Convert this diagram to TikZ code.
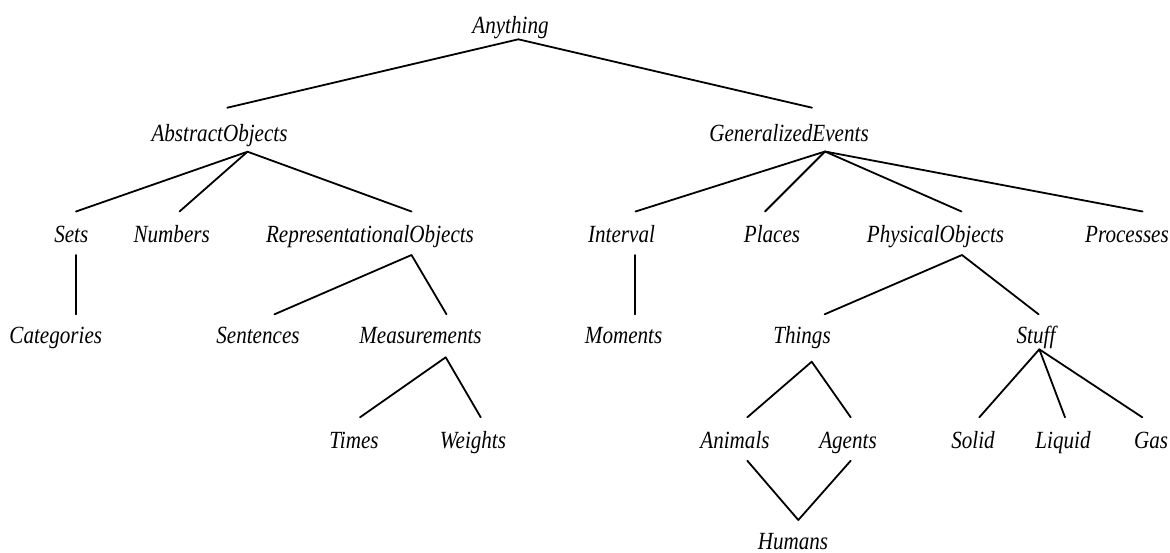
\documentclass[tikz,border=0pt]{standalone}
\usepackage{fontspec}
\usepackage{graphicx}
\setmainfont{Liberation Serif}
% taller, narrow-looking italic labels
\newcommand{\tallitem}[1]{\scalebox{1}[1.17]{#1}}
\begin{document}
\begin{tikzpicture}[x=0.5pt,y=-0.5pt,
  lbl/.style={font=\fontsize{10.55}{12}\selectfont\itshape, inner sep=0pt, anchor=base},
  branch/.style={line width=0.9pt, line cap=round, line join=round}]
\useasboundingbox (0,0) rectangle (1170,552);

% ---- labels (placed on their baselines) ----
\node[lbl] (anything) at (510.5,33) {\tallitem{Anything}};

\node[lbl] (abstract) at (219.5,141.5) {\tallitem{AbstractObjects}};
\node[lbl] (genev)    at (789,141.5)   {\tallitem{GeneralizedEvents}};

\node[lbl] (sets)     at (71.3,242)  {\tallitem{Sets}};
\node[lbl] (numbers)  at (171.7,242) {\tallitem{Numbers}};
\node[lbl] (repobj)   at (370,242)   {\tallitem{RepresentationalObjects}};
\node[lbl] (interval) at (621.5,242) {\tallitem{Interval}};
\node[lbl] (places)   at (772,242)   {\tallitem{Places}};
\node[lbl] (physobj)  at (935.5,242) {\tallitem{PhysicalObjects}};
\node[lbl] (processes) at (1127,242) {\tallitem{Processes}};

\node[lbl] (categories) at (55.8,343.5) {\tallitem{Categories}};
\node[lbl] (sentences)  at (258,343.5)  {\tallitem{Sentences}};
\node[lbl] (measure)    at (420.5,343.5) {\tallitem{Measurements}};
\node[lbl] (moments)    at (623.6,343.5) {\tallitem{Moments}};
\node[lbl] (things)     at (802,343.5)  {\tallitem{Things}};
\node[lbl] (stuff)      at (1036,343.5) {\tallitem{Stuff}};

\node[lbl] (times)   at (354,448)  {\tallitem{Times}};
\node[lbl] (weights) at (473,448)  {\tallitem{Weights}};
\node[lbl] (animals) at (735,448)  {\tallitem{Animals}};
\node[lbl] (agents)  at (848,448)  {\tallitem{Agents}};
\node[lbl] (solid)   at (973,448)  {\tallitem{Solid}};
\node[lbl] (liquid)  at (1063,448) {\tallitem{Liquid}};
\node[lbl] (gas)     at (1151,448) {\tallitem{Gas}};

\node[lbl] (humans) at (793,549) {\tallitem{Humans}};

% ---- attachment points: -up above a label, -dn below it ----
\coordinate (anything-dn) at (518.3,39.3);
\coordinate (abstract-up) at (227.3,107.7);
\coordinate (abstract-dn) at (247.5,151.7);
\coordinate (genev-up)    at (812,107.7);
\coordinate (genev-dn)    at (825,151.5);

\coordinate (sets-up)      at (76,211.5);
\coordinate (sets-dn)      at (76,255);
\coordinate (numbers-up)   at (179.5,211.5);
\coordinate (repobj-up)    at (411.5,211.5);
\coordinate (repobj-dn)    at (411.5,255);
\coordinate (interval-up)  at (635.5,211.5);
\coordinate (interval-dn)  at (635,255);
\coordinate (places-up)    at (765,211.5);
\coordinate (physobj-up)   at (961.5,211.5);
\coordinate (physobj-dn)   at (962,255);
\coordinate (processes-up) at (1142.5,211.5);

\coordinate (categories-up) at (76,314.3);
\coordinate (sentences-up)  at (274.5,314.3);
\coordinate (measure-up)    at (446.5,314.3);
\coordinate (measure-dn)    at (445.7,357.3);
\coordinate (moments-up)    at (635,314.3);
\coordinate (things-up)     at (824.6,314.3);
\coordinate (things-dn)     at (811.7,361.7);
\coordinate (stuff-up)      at (1038.6,314.3);
\coordinate (stuff-dn)      at (1039.3,349.3);

\coordinate (times-up)   at (360,417.3);
\coordinate (weights-up) at (480.7,417.3);
\coordinate (animals-up) at (747.3,417.3);
\coordinate (animals-dn) at (747.3,460.7);
\coordinate (agents-up)  at (850.7,417.3);
\coordinate (agents-dn)  at (850.7,460.7);
\coordinate (solid-up)   at (979.3,417.3);
\coordinate (liquid-up)  at (1065,417.3);
\coordinate (gas-up)     at (1142.3,417.3);
\coordinate (humans-up)  at (798.3,520);

% ---- branches ----
\draw[branch] (abstract-up) -- (anything-dn) -- (genev-up);

\draw[branch] (sets-up) -- (abstract-dn) -- (repobj-up);
\draw[branch] (numbers-up) -- (abstract-dn);

\draw[branch] (interval-up) -- (genev-dn) -- (processes-up);
\draw[branch] (places-up) -- (genev-dn) -- (physobj-up);

\draw[branch] (sets-dn) -- (categories-up);
\draw[branch] (sentences-up) -- (repobj-dn) -- (measure-up);
\draw[branch] (interval-dn) -- (moments-up);
\draw[branch] (things-up) -- (physobj-dn) -- (stuff-up);

\draw[branch] (times-up) -- (measure-dn) -- (weights-up);
\draw[branch] (animals-up) -- (things-dn) -- (agents-up);
\draw[branch] (solid-up) -- (stuff-dn) -- (gas-up);
\draw[branch] (liquid-up) -- (stuff-dn);

\draw[branch] (animals-dn) -- (humans-up) -- (agents-dn);
\end{tikzpicture}
\end{document}
